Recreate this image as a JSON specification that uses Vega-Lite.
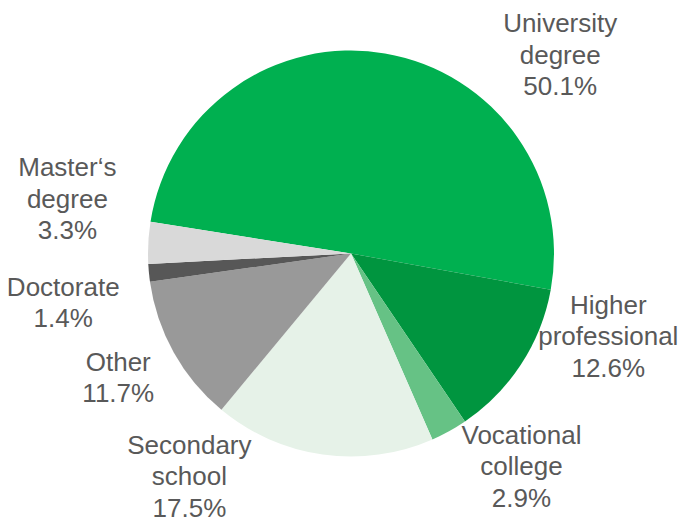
{
  "$schema": "https://vega.github.io/schema/vega-lite/v6.json",
  "width": 658,
  "height": 507,
  "autosize": {"type": "none"},
  "padding": {"left": 22, "top": 0, "right": 0, "bottom": 14},
  "background": "white",
  "view": {"stroke": null},
  "config": {
    "text": {"font": "Liberation Sans Narrow, Arial Narrow, Liberation Sans, Arial, sans-serif", "fontSize": 26, "lineHeight": 31.5, "color": "#595959", "align": "center", "baseline": "middle", "lineBreak": "\n"}
  },
  "data": {
    "values": [
      {"rank": 1, "category": "University degree", "share": 50.1, "label": "University\ndegree\n50.1%"},
      {"rank": 2, "category": "Higher professional", "share": 12.6, "label": "Higher\nprofessional\n12.6%"},
      {"rank": 3, "category": "Vocational college", "share": 2.9, "label": "Vocational\ncollege\n2.9%"},
      {"rank": 4, "category": "Secondary school", "share": 17.5, "label": "Secondary\nschool\n17.5%"},
      {"rank": 5, "category": "Other", "share": 11.7, "label": "Other\n11.7%"},
      {"rank": 6, "category": "Doctorate", "share": 1.4, "label": "Doctorate\n1.4%"},
      {"rank": 7, "category": "Master's degree", "share": 3.3, "label": "Master‘s\ndegree\n3.3%"}
    ]
  },
  "transform": [
    {"stack": "share", "groupby": [], "sort": [{"field": "rank", "order": "ascending"}], "as": ["s0", "s1"]},
    {"calculate": "(datum.s0 + datum.s1) / 2", "as": "mid"}
  ],
  "layer": [
    {
      "mark": {"type": "arc", "outerRadius": 203},
      "encoding": {
        "theta": {"field": "s0", "type": "quantitative", "scale": {"domain": [0, 99.5], "range": [4.8695, 11.1527]}},
        "theta2": {"field": "s1"},
        "color": {
          "field": "category", "type": "nominal", "legend": null,
          "scale": {
            "domain": ["University degree", "Higher professional", "Vocational college", "Secondary school", "Other", "Doctorate", "Master's degree"],
            "range": ["#00B050", "#00953F", "#66C285", "#E6F2E8", "#999999", "#575757", "#D9D9D9"]
          }
        }
      }
    },
    {
      "transform": [{"filter": "datum.category == 'University degree'"}],
      "mark": {"type": "text", "radius": 270, "dx": 164, "dy": 37},
      "encoding": {"theta": {"field": "mid", "type": "quantitative"}, "text": {"field": "label"}}
    },
    {
      "transform": [{"filter": "datum.category == 'Higher professional'"}],
      "mark": {"type": "text", "radius": 270, "dx": 31, "dy": -95},
      "encoding": {"theta": {"field": "mid", "type": "quantitative"}, "text": {"field": "label"}}
    },
    {
      "transform": [{"filter": "datum.category == 'Vocational college'"}],
      "mark": {"type": "text", "radius": 270, "dx": 40, "dy": -54},
      "encoding": {"theta": {"field": "mid", "type": "quantitative"}, "text": {"field": "label"}}
    },
    {
      "transform": [{"filter": "datum.category == 'Secondary school'"}],
      "mark": {"type": "text", "radius": 270, "dx": -124, "dy": -75},
      "encoding": {"theta": {"field": "mid", "type": "quantitative"}, "text": {"field": "label"}}
    },
    {
      "transform": [{"filter": "datum.category == 'Other'"}],
      "mark": {"type": "text", "radius": 270, "dx": 3, "dy": -22.5},
      "encoding": {"theta": {"field": "mid", "type": "quantitative"}, "text": {"field": "label"}}
    },
    {
      "transform": [{"filter": "datum.category == 'Doctorate'"}],
      "mark": {"type": "text", "radius": 270, "dx": -19, "dy": 8.5},
      "encoding": {"theta": {"field": "mid", "type": "quantitative"}, "text": {"field": "label"}}
    },
    {
      "transform": [{"filter": "datum.category == \"Master's degree\""}],
      "mark": {"type": "text", "radius": 270, "dx": -14, "dy": -71},
      "encoding": {"theta": {"field": "mid", "type": "quantitative"}, "text": {"field": "label"}}
    }
  ]
}
